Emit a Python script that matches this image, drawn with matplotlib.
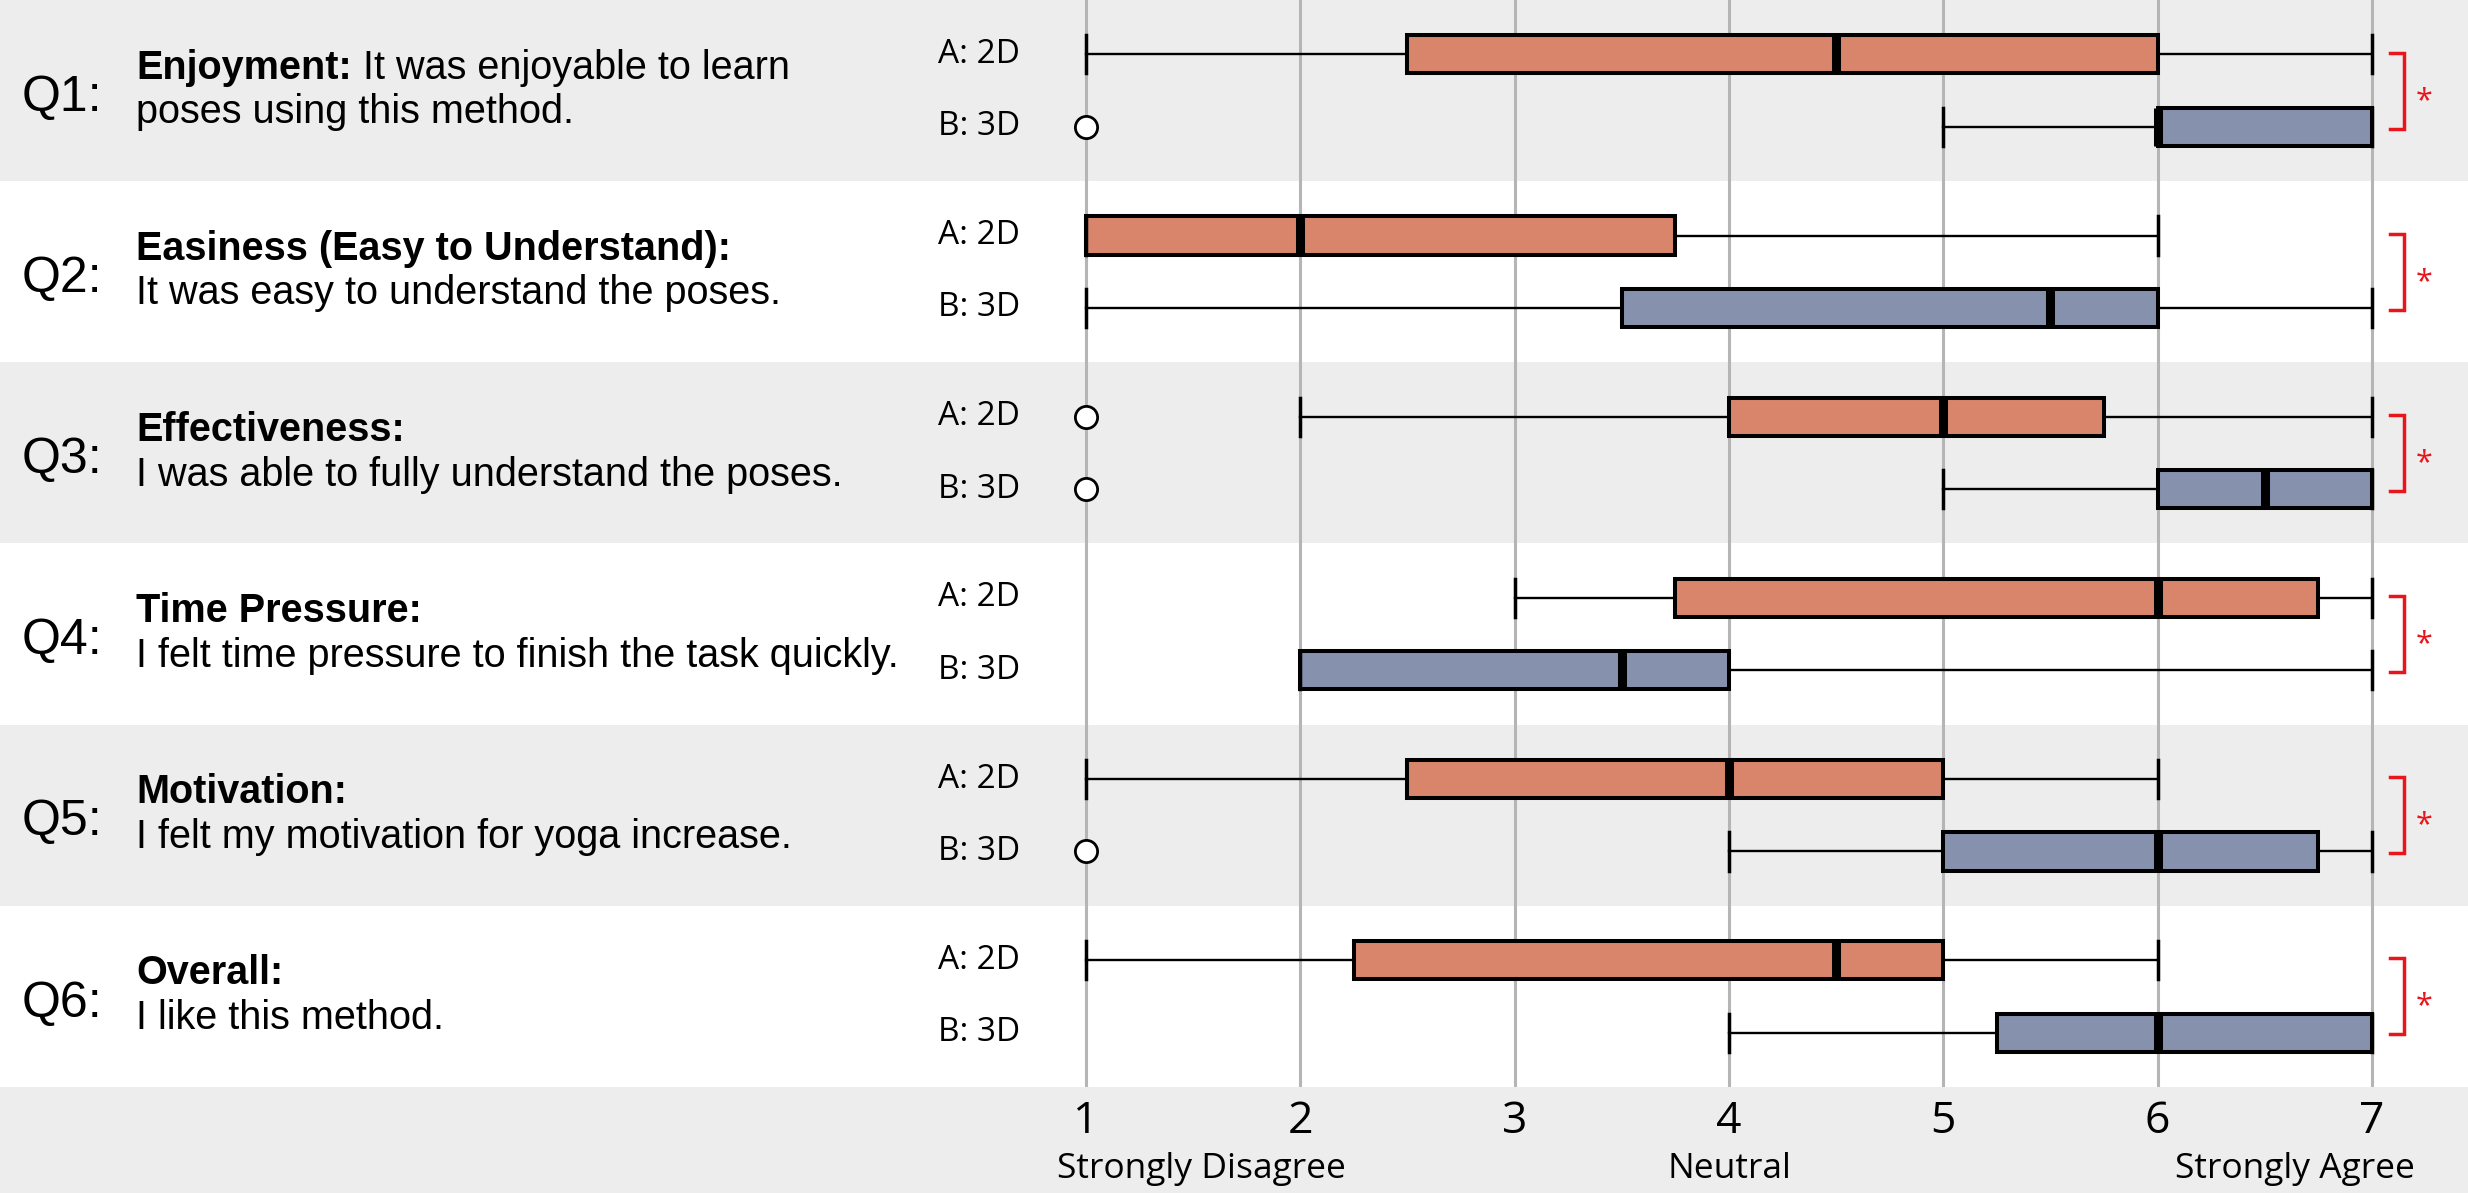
"""
Questionnaire results: 2D vs 3D pose learning, 7-point Likert box plots.
"""

import matplotlib
matplotlib.use("Agg")
import matplotlib.pyplot as plt
from matplotlib.transforms import blended_transform_factory

W, H = 2468, 1193

QUESTIONS = ["Q1:", "Q2:", "Q3:", "Q4:", "Q5:", "Q6:"]
HEADINGS = ["Enjoyment:", "Easiness (Easy to Understand):", "Effectiveness:",
            "Time Pressure:", "Motivation:", "Overall:"]
HEADING_REST = [" It was enjoyable to learn", "", "", "", "", ""]
SECOND_LINE = ["poses using this method.",
               "It was easy to understand the poses.",
               "I was able to fully understand the poses.",
               "I felt time pressure to finish the task quickly.",
               "I felt my motivation for yoga increase.",
               "I like this method."]
GROUP_LABELS = ["A: 2D", "B: 3D"]
SIGNIFICANT = [True, True, True, True, True, True]

SCALE_TICKS = [1, 2, 3, 4, 5, 6, 7]
ANCHOR_LABELS = ["Strongly Disagree", "Neutral", "Strongly Agree"]

# box stats (group A = 2D, group B = 3D)
a_whislo = [1, 1, 2, 3, 1, 1]
a_q1 = [2.5, 1, 4, 3.75, 2.5, 2.25]
a_med = [4.5, 2, 5, 6, 4, 4.5]
a_q3 = [6, 3.75, 5.75, 6.75, 5, 5]
a_whishi = [7, 6, 7, 7, 6, 6]
a_fliers = [[], [], [1], [], [], []]

b_whislo = [5, 1, 5, 2, 4, 4]
b_q1 = [6, 3.5, 6, 2, 5, 5.25]
b_med = [6, 5.5, 6.5, 3.5, 6, 6]
b_q3 = [7, 6, 7, 4, 6.75, 7]
b_whishi = [7, 7, 7, 7, 7, 7]
b_fliers = [[1], [], [1], [], [1], []]

ORANGE = "#D9856B"
BLUE = "#8691AD"
BAND = "#EDEDED"
RED = "#E8161C"
TXT_FONT = ["Liberation Sans", "DejaVu Sans"]
LBL_FONT = ["Open Sans", "DejaVu Sans"]


def stats(whislo, q1, med, q3, whishi, fliers):
    return [dict(whislo=w0, q1=a, med=m, q3=b, whishi=w1, fliers=f)
            for w0, a, m, b, w1, f in zip(whislo, q1, med, q3, whishi, fliers)]


def main():
    fig = plt.figure(figsize=(W / 100, H / 100), dpi=100, facecolor=BAND)
    plot_h = 1087 / H
    ax = fig.add_axes([0, 1 - plot_h, 1, plot_h])
    ax.set_facecolor("white")
    n = len(QUESTIONS)
    for s in ax.spines.values():
        s.set_visible(False)

    for i in range(0, n, 2):
        ax.axhspan(i, i + 1, color=BAND, lw=0, zorder=0)

    common = dict(
        orientation="horizontal", widths=0.21, capwidths=0.21, patch_artist=True,
        manage_ticks=False,
        boxprops=dict(edgecolor="black", lw=2.9),
        whiskerprops=dict(color="black", lw=1.7),
        capprops=dict(color="black", lw=2.5),
        medianprops=dict(color="black", lw=6.5),
        flierprops=dict(marker="o", markerfacecolor="white", markeredgecolor="black",
                        markersize=16, markeredgewidth=2),
    )
    pos_a = [i + 0.3 for i in range(n)]
    pos_b = [i + 0.7 for i in range(n)]
    ra = ax.bxp(stats(a_whislo, a_q1, a_med, a_q3, a_whishi, a_fliers), positions=pos_a, **common)
    rb = ax.bxp(stats(b_whislo, b_q1, b_med, b_q3, b_whishi, b_fliers), positions=pos_b, **common)
    for p in ra["boxes"]:
        p.set_facecolor(ORANGE)
    for p in rb["boxes"]:
        p.set_facecolor(BLUE)

    ax.set_xlim(-4.067, 7.448)
    ax.set_ylim(n, 0)
    ax.set_xticks(SCALE_TICKS)
    ax.set_xticklabels([str(t) for t in SCALE_TICKS], fontsize=32, family=LBL_FONT)
    ax.tick_params(axis="x", length=0, pad=9)
    ax.set_yticks([])
    ax.xaxis.grid(True, color="#B5B5B5", lw=2.2)
    ax.set_axisbelow(True)

    # left-hand question text
    tr = blended_transform_factory(fig.transFigure, ax.transData)
    renderer = fig.canvas.get_renderer()
    fs = 28.5
    for i in range(n):
        c = i + 0.5
        ax.text(22 / W, c + 0.04, QUESTIONS[i], transform=tr, fontsize=36,
                family=TXT_FONT, va="center", ha="left")
        t = ax.text(136 / W, c - 0.066, HEADINGS[i], transform=tr, fontsize=fs,
                    family=TXT_FONT, weight="bold", va="baseline", ha="left")
        if HEADING_REST[i]:
            bb = t.get_window_extent(renderer)
            ax.text(bb.x1 / W, c - 0.066, HEADING_REST[i], transform=tr, fontsize=fs,
                    family=TXT_FONT, va="baseline", ha="left")
        ax.text(136 / W, c + 0.18, SECOND_LINE[i], transform=tr, fontsize=fs,
                family=TXT_FONT, va="baseline", ha="left")
        for y, lbl in zip((pos_a[i], pos_b[i]), GROUP_LABELS):
            ax.text(938 / W, y, lbl, transform=tr, fontsize=24, family=LBL_FONT,
                    va="center", ha="left")

        if SIGNIFICANT[i]:
            ax.plot([7.085, 7.15, 7.15, 7.085], [i + 0.29, i + 0.29, i + 0.71, i + 0.71],
                    color=RED, lw=2.5, solid_joinstyle="miter", clip_on=False)
            ax.text(7.245, c + 0.1, "*", color=RED, fontsize=22, family=LBL_FONT,
                    ha="center", va="baseline")

    # anchor words under the scale
    tr2 = blended_transform_factory(ax.transData, fig.transFigure)
    for x, lbl in zip([1.54, 4.0, 6.64], ANCHOR_LABELS):
        ax.text(x, (H - 1178) / H, lbl, transform=tr2, fontsize=25.5, family=LBL_FONT,
                ha="center", va="baseline")

    fig.savefig("out.png", dpi=100, facecolor=BAND)
    plt.close(fig)


if __name__ == "__main__":
    main()
